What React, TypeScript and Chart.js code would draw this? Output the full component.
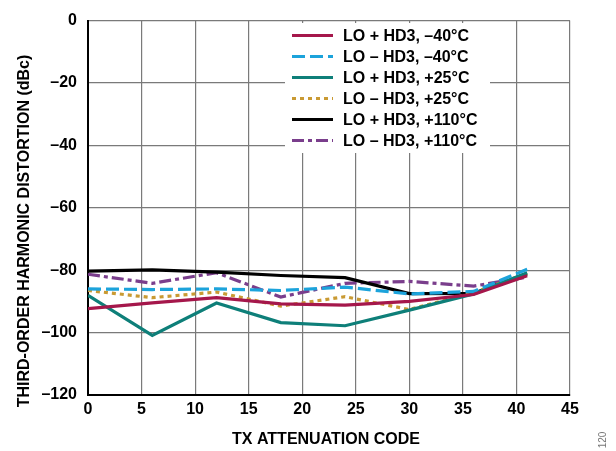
import React, { useEffect, useRef } from "react";
import { Chart, registerables } from "chart.js";

Chart.register(...registerables);

const xCodes = [0, 6, 12, 18, 24, 30, 36, 41];
const loPlusM40 = [-92.3, -90.5, -88.8, -90.8, -91.2, -90.0, -87.8, -81.8];
const loMinusM40 = [-86.0, -86.2, -86.0, -86.5, -85.4, -87.6, -86.8, -79.7];
const loPlus25 = [-88.1, -100.9, -90.5, -96.8, -97.8, -92.8, -87.6, -80.8];
const loMinus25 = [-86.5, -88.8, -87.0, -91.5, -88.5, -92.6, -87.2, -81.0];
const loPlus110 = [-80.3, -79.9, -80.6, -81.7, -82.4, -87.5, -87.4, -81.2];
const loMinus110 = [-81.3, -84.2, -80.8, -88.6, -84.2, -83.6, -85.1, -82.2];

const seriesLabels = [
  "LO + HD3, \u201340\u00B0C",
  "LO \u2013 HD3, \u201340\u00B0C",
  "LO + HD3, +25\u00B0C",
  "LO \u2013 HD3, +25\u00B0C",
  "LO + HD3, +110\u00B0C",
  "LO \u2013 HD3, +110\u00B0C",
];
const seriesValues = [loPlusM40, loMinusM40, loPlus25, loMinus25, loPlus110, loMinus110];
const seriesColors = ["#A5174B", "#1CA3DB", "#0E7F79", "#C99A33", "#000000", "#7A3E8C"];
const seriesDashes: number[][] = [[], [13, 5], [], [4, 4], [], [12, 4, 4, 4]];

const xTitle = "TX ATTENUATION CODE";
const yTitle = "THIRD-ORDER HARMONIC DISTORTION (dBc)";
const figNote = "120";

const FONT = "'Liberation Sans', Arial, Helvetica, sans-serif";

const overlayPlugin = {
  id: "overlay",
  afterDraw(chart: any) {
    const ctx = chart.ctx;
    ctx.save();
    ctx.fillStyle = "#ffffff";
    ctx.fillRect(285, 23, 205, 130);
    ctx.font = `bold 16px ${FONT}`;
    ctx.textBaseline = "middle";
    ctx.textAlign = "left";
    seriesLabels.forEach((lab, i) => {
      const y = 35.5 + i * 21;
      ctx.beginPath();
      ctx.strokeStyle = seriesColors[i];
      ctx.lineWidth = 3.2;
      ctx.setLineDash(seriesDashes[i]);
      ctx.moveTo(292, y);
      ctx.lineTo(333, y);
      ctx.stroke();
      ctx.setLineDash([]);
      ctx.fillStyle = "#000";
      ctx.fillText(lab, 343, y + 1);
    });
    ctx.fillStyle = "#000";
    ctx.font = `bold 16px ${FONT}`;
    ctx.textAlign = "center";
    ctx.textBaseline = "middle";
    ctx.fillText(xTitle, 326, 440);
    ctx.save();
    ctx.translate(25, 231);
    ctx.rotate(-Math.PI / 2);
    ctx.fillText(yTitle, 0, 0);
    ctx.restore();
    ctx.save();
    ctx.translate(603, 440);
    ctx.rotate(-Math.PI / 2);
    ctx.font = `10px ${FONT}`;
    ctx.fillStyle = "#777";
    ctx.fillText(figNote, 0, 0);
    ctx.restore();
    ctx.restore();
  },
};

export default function App() {
  const ref = useRef<HTMLCanvasElement>(null);
  useEffect(() => {
    const canvas = ref.current!;
    const chart = new Chart(canvas, {
      type: "line",
      data: {
        datasets: seriesLabels.map((lab, i) => ({
          label: lab,
          data: xCodes.map((x, j) => ({ x, y: seriesValues[i][j] })),
          borderColor: seriesColors[i],
          backgroundColor: seriesColors[i],
          borderWidth: 3.2,
          borderDash: seriesDashes[i],
          pointRadius: 0,
          tension: 0,
          fill: false,
        })),
      },
      options: {
        responsive: false,
        animation: false,
        layout: { padding: { top: 12, right: 46, left: 0, bottom: 0 } },
        plugins: {
          legend: { display: false },
          tooltip: { enabled: false },
          title: { display: false },
        },
        scales: {
          x: {
            type: "linear",
            min: 0,
            max: 45,
            afterFit: (s: any) => {
              s.height = 56;
            },
            ticks: {
              stepSize: 5,
              color: "#000",
              font: { family: FONT, size: 16, weight: "bold" },
              padding: 5,
              maxRotation: 0,
            },
            grid: { color: "#7a7a7a", lineWidth: 1.2, drawTicks: false },
            border: { color: "#000", width: 2 },
          },
          y: {
            type: "linear",
            min: -120,
            max: 0,
            afterFit: (s: any) => {
              s.width = 88;
            },
            ticks: {
              stepSize: 20,
              color: "#000",
              font: { family: FONT, size: 16, weight: "bold" },
              padding: 11,
              callback: (v: any) => String(v).replace("-", "\u2013"),
            },
            grid: { color: "#7a7a7a", lineWidth: 1.2, drawTicks: false },
            border: { color: "#000", width: 2 },
          },
        },
      },
      plugins: [overlayPlugin],
    });
    return () => chart.destroy();
  }, []);
  return (
    <div style={{ position: "fixed", left: 0, top: 0, width: 616, height: 451, background: "#fff" }}>
      <canvas ref={ref} width={616} height={451} style={{ width: 616, height: 451 }} />
    </div>
  );
}
